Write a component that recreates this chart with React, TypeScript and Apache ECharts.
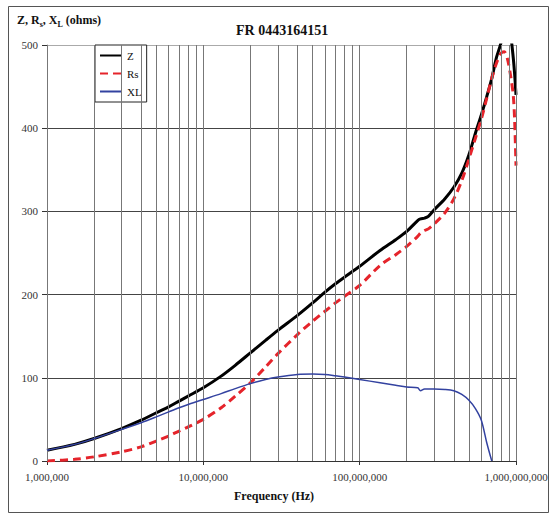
import React, { useEffect, useRef } from "react";
import * as echarts from "echarts";

const freqs = [
  1e6, 1.5e6, 2e6, 3e6, 4e6, 5e6, 6e6, 7e6, 8e6, 1e7, 1.3e7, 1.6e7, 2e7, 2.5e7,
  3e7, 4e7, 5e7, 6e7, 7e7, 8e7, 1e8, 1.35e8, 1.7e8, 2e8, 2.35e8, 2.45e8, 2.6e8,
  2.75e8, 3e8, 3.5e8, 4e8, 4.5e8, 5e8, 5.5e8, 6e8, 6.5e8, 7e8, 7.5e8, 8e8,
  8.4e8, 8.8e8, 9.2e8, 9.6e8, 9.8e8, 1e9,
];

const zValues = [
  13, 20, 27, 39, 49, 58, 65, 72, 78, 88, 102, 115, 130, 145, 157, 175, 190,
  203, 213, 221, 234, 253, 266, 276, 289, 291, 292, 294, 302, 315, 329, 346,
  368, 394, 416, 438, 460, 485, 502, 522, 530, 515, 485, 465, 440,
];

const rsValues = [
  0, 2, 5, 11, 17, 24, 30, 36, 41, 50, 64, 78, 94, 113, 129, 152, 168, 180,
  190, 198, 211, 235, 248, 258, 270, 274, 277, 279, 285, 298, 315, 337, 363,
  388, 411, 436, 460, 478, 490, 492, 484, 465, 440, 410, 355,
];

const xlValues: (number | null)[] = [
  13, 20, 27, 38, 46, 53, 59, 64, 68, 74, 81, 87, 93, 98, 101, 104, 104.5,
  104, 102.5, 101, 98, 94, 91, 89, 88, 84.5, 86.5, 86.5, 86.5, 86, 84.5, 80,
  73, 63, 49, 22, 0, null, null, null, null, null, null, null, null,
];

// Vertical grid: decades and their 2..9 multiples
const gridDecades = [1e6, 1e7, 1e8];
const gridMultipliers = [1, 2, 3, 4, 5, 6, 7, 8, 9];
const gridEnd = 1e9;

const yTicks = { min: 0, max: 500, interval: 100 };

const titleText = "FR 0443164151";
const xName = "Frequency (Hz)";

const SERIF = "'Liberation Serif', 'Times New Roman', serif";

export default function App() {
  const ref = useRef<HTMLDivElement>(null);

  useEffect(() => {
    document.body.style.margin = "0";
    if (!ref.current) return;
    const chart = echarts.init(ref.current, undefined, { renderer: "svg" });

    const gridFreqs: number[] = [];
    gridDecades.forEach((d) =>
      gridMultipliers.forEach((m) => gridFreqs.push(m * d))
    );
    gridFreqs.push(gridEnd);

    const pair = (vals: (number | null)[]) =>
      freqs.map((f, i) => [f, vals[i]]);

    chart.setOption({
      animation: false,
      backgroundColor: "#ffffff",
      textStyle: { fontFamily: SERIF },
      title: [
        {
          text: titleText,
          left: 236,
          top: 23,
          padding: 0,
          textStyle: {
            fontFamily: SERIF,
            fontWeight: "bold",
            fontSize: 14,
            color: "#111",
          },
        },
        {
          text: "{b|Z, R}{s|s}{b|, X}{s|L}{b| (ohms)}",
          left: 17,
          top: 12,
          padding: 0,
          textStyle: {
            rich: {
              b: {
                fontFamily: SERIF,
                fontWeight: "bold",
                fontSize: 12,
                color: "#111",
                lineHeight: 16,
                verticalAlign: "middle",
              },
              s: {
                fontFamily: SERIF,
                fontWeight: "bold",
                fontSize: 8,
                color: "#111",
                lineHeight: 16,
                verticalAlign: "bottom",
              },
            },
          },
        },
        {
          text: xName,
          left: 234,
          top: 490,
          padding: 0,
          textStyle: {
            fontFamily: SERIF,
            fontWeight: "bold",
            fontSize: 12,
            color: "#111",
          },
        },
      ],
      legend: {
        data: ["Z", "Rs", "XL"],
        orient: "vertical",
        left: 95,
        top: 45,
        backgroundColor: "#ffffff",
        borderColor: "#222",
        borderWidth: 1,
        borderRadius: 0,
        padding: [5, 5, 5, 4],
        itemWidth: 22,
        itemHeight: 12,
        itemGap: 7,
        itemStyle: { opacity: 0, borderWidth: 0 },
        textStyle: { fontFamily: SERIF, fontSize: 11, color: "#111" },
      },
      grid: { left: 47, right: 39, top: 45, bottom: 54, containLabel: false },
      xAxis: {
        type: "log",
        logBase: 10,
        min: 1e6,
        max: 1e9,
        axisLine: { show: true, lineStyle: { color: "#333", width: 1 } },
        axisTick: { show: true, length: 4, lineStyle: { color: "#333" } },
        splitLine: { show: false },
        axisLabel: {
          fontFamily: SERIF,
          fontSize: 11,
          color: "#333",
          margin: 10,
          formatter: (v: number) => Math.round(v).toLocaleString("en-US"),
        },
      },
      yAxis: {
        type: "value",
        min: yTicks.min,
        max: yTicks.max,
        interval: yTicks.interval,
        axisLine: { show: true, lineStyle: { color: "#999", width: 1 } },
        axisTick: { show: true, length: 5, lineStyle: { color: "#333" } },
        splitLine: {
          show: true,
          lineStyle: {
            color: ["#444", "#444", "#444", "#444", "#444", "#aaa"],
            width: 1,
          },
        },
        axisLabel: {
          fontFamily: SERIF,
          fontSize: 11,
          color: "#333",
          margin: 9,
        },
      },
      graphic: [
        {
          type: "rect",
          shape: { x: 8.5, y: 6.5, width: 540, height: 506 },
          style: { fill: "none", stroke: "#555", lineWidth: 1 },
          silent: true,
        },
      ],
      series: [
        {
          name: "grid",
          type: "line",
          data: [],
          silent: true,
          z: 1,
          markLine: {
            silent: true,
            symbol: ["none", "none"],
            label: { show: false },
            lineStyle: { color: "#777", type: "solid", width: 1 },
            data: gridFreqs.map((f) => ({ xAxis: f })),
          },
        },
        {
          name: "Z",
          type: "line",
          data: pair(zValues),
          showSymbol: false,
          symbol: "none",
          smooth: 0.3,
          z: 3,
          lineStyle: { color: "#000000", width: 3 },
          itemStyle: { color: "#000000" },
        },
        {
          name: "Rs",
          type: "line",
          data: pair(rsValues),
          showSymbol: false,
          symbol: "none",
          smooth: 0.3,
          z: 4,
          lineStyle: { color: "#e5242b", width: 3, type: [8, 5] },
          itemStyle: { color: "#e5242b" },
        },
        {
          name: "XL",
          type: "line",
          data: pair(xlValues),
          showSymbol: false,
          symbol: "none",
          smooth: 0.3,
          z: 5,
          lineStyle: { color: "#3342a0", width: 1.5 },
          itemStyle: { color: "#3342a0" },
        },
      ],
    });

    return () => chart.dispose();
  }, []);

  return <div ref={ref} style={{ width: 555, height: 515 }} />;
}
